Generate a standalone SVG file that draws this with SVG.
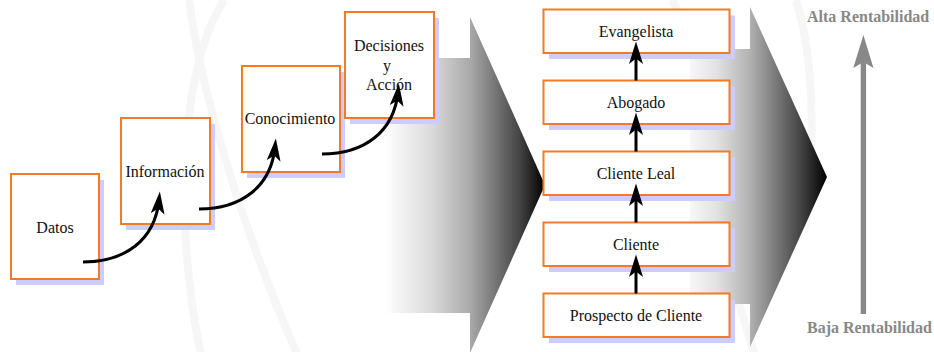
<svg xmlns="http://www.w3.org/2000/svg" width="934" height="352" viewBox="0 0 934 352">
  <style>
    .shadow { fill: #ccccff; }
    .box { fill: #ffffff; stroke: #f47b25; stroke-width: 2; }
    .label { font-family: "Liberation Serif", "Times New Roman", serif; font-size: 16px; fill: #111; text-anchor: middle; }
    .side { font-family: "Liberation Serif", "Times New Roman", serif; font-size: 16px; font-weight: bold; fill: #888888; }
    .flow { fill: none; stroke: #000; stroke-width: 3; }
    .deco { fill: none; stroke: #f6f6f6; stroke-width: 8; }
  </style>
  <defs>
    <marker id="head" markerUnits="userSpaceOnUse" markerWidth="24" markerHeight="14" refX="13" refY="6.5" orient="auto" viewBox="0 0 22 13">
      <path d="M0,0 L21,6.5 L0,13 L5,6.5 Z" fill="#000"/>
    </marker>
    <linearGradient id="fadeA" gradientUnits="userSpaceOnUse" x1="385" y1="0" x2="545" y2="0">
      <stop offset="0" stop-color="#ffffff"/>
      <stop offset="0.28" stop-color="#dcdcdc"/>
      <stop offset="0.53" stop-color="#aaaaaa"/>
      <stop offset="0.84" stop-color="#444444"/>
      <stop offset="1" stop-color="#000000"/>
    </linearGradient>
    <linearGradient id="fadeB" gradientUnits="userSpaceOnUse" x1="680" y1="0" x2="827" y2="0">
      <stop offset="0" stop-color="#ffffff"/>
      <stop offset="0.25" stop-color="#e2e2e2"/>
      <stop offset="0.48" stop-color="#b0b0b0"/>
      <stop offset="0.82" stop-color="#444444"/>
      <stop offset="1" stop-color="#000000"/>
    </linearGradient>
  </defs>

  <!-- faint watermark curves -->
  <g id="watermark">
    <path class="deco" d="M189,0 C198,70 230,200 298,356"/>
    <path class="deco" d="M224,0 C185,60 170,200 201,356"/>
    <path class="deco" d="M672,0 C680,15 690,30 700,40"/>
    <path class="deco" d="M796,0 C815,60 815,150 805,230"/>
    <path class="deco" d="M738,300 L755,356"/>
  </g>

  <!-- large shaded block arrows -->
  <g id="stage-arrows">
    <path d="M380,58 L470,58 L470,17 L545,185 L470,353 L470,313 L380,313 Z" fill="url(#fadeA)"/>
    <path d="M690,49 L750,49 L750,7 L827,177 L750,347 L750,304 L690,304 Z" fill="url(#fadeB)"/>
  </g>

  <!-- knowledge staircase -->
  <g id="datos">
    <rect class="shadow" x="16" y="180" width="88" height="105"/>
    <rect class="box" x="11" y="174" width="88" height="105"/>
    <text class="label" x="55" y="233">Datos</text>
  </g>
  <g id="informacion">
    <rect class="shadow" x="126" y="124" width="89" height="106"/>
    <rect class="box" x="121" y="118" width="89" height="106"/>
    <text class="label" x="165" y="177">Información</text>
  </g>
  <g id="conocimiento">
    <rect class="shadow" x="247" y="72" width="98" height="106"/>
    <rect class="box" x="242" y="66" width="98" height="106"/>
    <text class="label" x="290" y="124">Conocimiento</text>
  </g>
  <g id="decisiones">
    <rect class="shadow" x="350" y="18" width="89" height="106"/>
    <rect class="box" x="345" y="12" width="89" height="106"/>
    <text class="label" x="389" y="51">Decisiones</text>
    <text class="label" x="387" y="71">y</text>
    <text class="label" x="389" y="90">Acción</text>
  </g>

  <!-- customer ladder -->
  <g id="evangelista">
    <rect class="shadow" x="549" y="15.5" width="186" height="43.5"/>
    <rect class="box" x="543.5" y="9.5" width="186" height="43.5"/>
    <text class="label" x="636" y="37">Evangelista</text>
  </g>
  <g id="abogado">
    <rect class="shadow" x="549" y="86.5" width="186" height="43.5"/>
    <rect class="box" x="543.5" y="80.5" width="186" height="43.5"/>
    <text class="label" x="636" y="108">Abogado</text>
  </g>
  <g id="cliente-leal">
    <rect class="shadow" x="549" y="157.5" width="186" height="43.5"/>
    <rect class="box" x="543.5" y="151.5" width="186" height="43.5"/>
    <text class="label" x="636" y="179">Cliente Leal</text>
  </g>
  <g id="cliente">
    <rect class="shadow" x="549" y="228.5" width="186" height="43.5"/>
    <rect class="box" x="543.5" y="222.5" width="186" height="43.5"/>
    <text class="label" x="636" y="250">Cliente</text>
  </g>
  <g id="prospecto">
    <rect class="shadow" x="549" y="299.5" width="186" height="43.5"/>
    <rect class="box" x="543.5" y="293.5" width="186" height="43.5"/>
    <text class="label" x="636" y="320.5">Prospecto de Cliente</text>
  </g>

  <!-- profitability scale -->
  <g id="rentabilidad">
    <text class="side" x="807" y="22">Alta Rentabilidad</text>
    <text class="side" x="807" y="333">Baja Rentabilidad</text>
    <rect x="860.7" y="60" width="5.4" height="254" fill="#888888"/>
    <path d="M863.4,35 L873.5,68 L863.4,62 L853.3,68 Z" fill="#888888"/>
  </g>

  <!-- connectors -->
  <g id="connectors">
    <path class="flow" marker-end="url(#head)" d="M83,262 C125,262 155,240 159,200"/>
    <path class="flow" marker-end="url(#head)" d="M199,209 C241,209 271,187 275,147"/>
    <path class="flow" marker-end="url(#head)" d="M322,154 C364,154 394,132 398,92"/>
    <path class="flow" marker-end="url(#head)" d="M636,80.5 L636,50"/>
    <path class="flow" marker-end="url(#head)" d="M636,151.5 L636,121"/>
    <path class="flow" marker-end="url(#head)" d="M636,222.5 L636,192"/>
    <path class="flow" marker-end="url(#head)" d="M636,293.5 L636,263"/>
  </g>
</svg>
